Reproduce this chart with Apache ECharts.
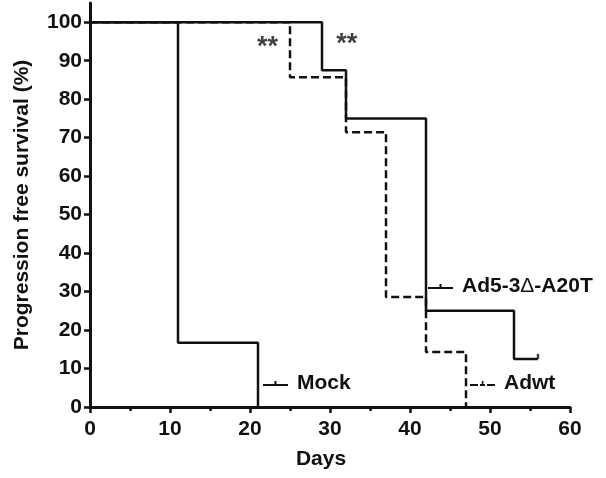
<!DOCTYPE html>
<html>
<head>
<meta charset="utf-8">
<script src="https://cdn.jsdelivr.net/npm/echarts@6/dist/echarts.min.js"></script>
<style>html,body{margin:0;padding:0;background:#fff}#c{width:606px;height:478px}</style>
</head>
<body>
<div id="c"></div>
<script>
// Kaplan-Meier step data: [day, % progression free]
const mockData = [[0, 100], [11, 16.67], [21, 0]];
const ad5Data = [[0, 100], [29, 87.5], [32, 75], [42, 25], [53, 12.5], [56, 12.5]];
const adwtData = [[0, 100], [25, 85.71], [32, 71.43], [37, 28.57], [42, 14.29], [47, 0]];
const censorData = [[56, 12.5]];
const sigMarks = [[22.2, 93.4, '**'], [32.1, 94.2, '**']];
const xTicks = [0, 10, 20, 30, 40, 50, 60];
const yTicks = [0, 10, 20, 30, 40, 50, 60, 70, 80, 90, 100];
const seriesNames = ['Mock', 'Ad5-3Δ-A20T', 'Adwt'];

const FONT = "'Liberation Sans', Arial, Helvetica, sans-serif";
const INK = '#111';

const chart = echarts.init(document.getElementById('c'), null, {renderer: 'canvas'});

const solidIcon = 'path://M0,3h25v2h-25z M11.5,0h2v3h-2z';
const dashIcon = 'path://M0,3h8v2h-8z M10,3h5v2h-5z M11.8,0h1.6v3h-1.6z M17,3h8v2h-8z';

function legendAt(name, left, top, icon) {
  return {
    data: [{name: name, icon: icon}],
    left: left, top: top, padding: 0, selectedMode: false,
    itemWidth: 25, itemHeight: 5, itemGap: 0,
    itemStyle: {color: INK, borderWidth: 0},
    formatter: function (n) { return n.replace('Δ', '{d|Δ}'); },
    textStyle: {
      fontFamily: FONT, fontWeight: 'bold', fontSize: 21, color: INK, padding: [0, 0, 0, 4],
      rich: {d: {fontFamily: FONT, fontWeight: 'normal', fontSize: 21, color: INK}}
    }
  };
}

chart.setOption({
  animation: false,
  backgroundColor: '#fff',
  grid: {left: 90, right: 36, top: 3, bottom: 71, containLabel: false},
  legend: [
    legendAt(seriesNames[0], 263, 373, solidIcon),
    legendAt(seriesNames[1], 428, 276, solidIcon),
    legendAt(seriesNames[2], 470, 373, dashIcon)
  ],
  xAxis: {
    type: 'value', min: 0, max: 60, interval: 10,
    name: 'Days', nameLocation: 'middle', nameGap: 42,
    nameTextStyle: {fontFamily: FONT, fontWeight: 'bold', fontSize: 21, color: INK, padding: [0, 18, 0, 0]},
    axisLine: {show: true, lineStyle: {color: INK, width: 3}},
    axisTick: {show: true, length: 6, lineStyle: {color: INK, width: 2.5}},
    minorTick: {show: true, splitNumber: 2, length: 4, lineStyle: {color: INK, width: 2.5}},
    axisLabel: {
      margin: 12, fontFamily: FONT, fontWeight: 'bold', fontSize: 21, color: INK,
      customValues: xTicks
    },
    splitLine: {show: false}
  },
  yAxis: {
    type: 'value', min: 0, max: 105, interval: 10,
    name: 'Progression free survival (%)', nameLocation: 'middle', nameGap: 57, nameRotate: 90,
    nameTextStyle: {fontFamily: FONT, fontWeight: 'bold', fontSize: 21, color: INK},
    axisLine: {show: true, lineStyle: {color: INK, width: 3}},
    axisTick: {show: true, length: 6, lineStyle: {color: INK, width: 2.5}, customValues: yTicks},
    axisLabel: {
      margin: 8, fontFamily: FONT, fontWeight: 'bold', fontSize: 21, color: INK,
      customValues: yTicks,
      formatter: function (v) { return v > 100 ? '' : String(v); }
    },
    splitLine: {show: false}
  },
  series: [
    {
      name: seriesNames[0], type: 'line', step: 'end', data: mockData, symbol: 'none',
      color: INK, lineStyle: {color: INK, width: 2.5}, z: 3
    },
    {
      name: seriesNames[1], type: 'line', step: 'end', data: ad5Data, symbol: 'none',
      color: INK, lineStyle: {color: INK, width: 2.5}, z: 3
    },
    {
      name: seriesNames[2], type: 'line', step: 'end', data: adwtData, symbol: 'none',
      color: INK, lineStyle: {color: INK, width: 2.5, type: [8, 4]}, z: 2
    },
    {
      name: 'censored', type: 'scatter', data: censorData,
      symbol: 'rect', symbolSize: [2.5, 5], symbolOffset: [0, -2.5],
      itemStyle: {color: INK}, z: 4
    },
    {
      name: 'sig', type: 'scatter',
      data: sigMarks.map(function (m) { return {value: [m[0], m[1]], label: {formatter: m[2]}}; }),
      symbolSize: 0, itemStyle: {color: 'transparent'},
      label: {show: true, position: 'inside', fontFamily: FONT, fontWeight: 'bold', fontSize: 27, color: INK},
      z: 5
    }
  ]
});
</script>
</body>
</html>
